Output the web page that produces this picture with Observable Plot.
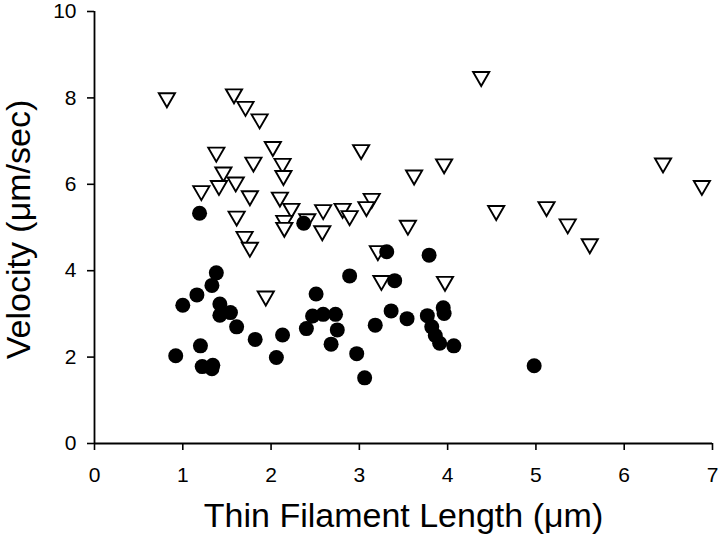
<!DOCTYPE html>
<html>
<head>
<meta charset="utf-8">
<script src="https://cdn.jsdelivr.net/npm/d3@7"></script>
<script src="https://cdn.jsdelivr.net/npm/@observablehq/plot@0.6"></script>
<style>
  html, body { margin: 0; padding: 0; background: #fff; }
  #chart { width: 720px; height: 548px; }
</style>
</head>
<body>
<div id="chart"></div>
<script>
// Open inverted triangles
const triX = [0.82, 1.58, 1.71, 1.87, 1.38, 2.02, 3.02, 1.80, 2.13, 1.46, 2.14, 1.60, 1.41, 1.21, 1.76, 2.10, 3.14, 3.08, 2.23, 2.59, 2.81, 2.89, 1.61, 2.41, 2.15, 2.15, 2.58, 1.70, 1.76, 1.94, 3.21, 3.25, 4.38, 3.96, 3.62, 6.44, 6.88, 4.55, 5.12, 5.36, 3.55, 5.61, 3.97];
const triY = [8.00, 8.09, 7.80, 7.51, 6.74, 6.87, 6.80, 6.51, 6.48, 6.28, 6.20, 6.05, 5.97, 5.85, 5.73, 5.70, 5.67, 5.48, 5.44, 5.41, 5.44, 5.27, 5.26, 5.20, 5.16, 5.00, 4.92, 4.79, 4.54, 3.41, 4.46, 3.77, 8.49, 6.47, 6.21, 6.49, 5.97, 5.39, 5.48, 5.08, 5.05, 4.62, 3.75];
// Filled circles
const dotX = [1.19, 2.37, 3.31, 3.79, 1.38, 1.33, 2.89, 3.40, 1.16, 2.51, 1.00, 1.42, 1.54, 1.42, 3.36, 2.47, 2.59, 2.73, 1.61, 2.40, 2.75, 3.18, 1.82, 2.13, 1.20, 2.68, 0.92, 2.06, 2.97, 1.22, 1.34, 1.33, 3.06, 3.54, 3.77, 3.95, 3.96, 3.82, 3.86, 3.91, 4.07, 4.98];
const dotY = [5.33, 5.10, 4.44, 4.36, 3.95, 3.66, 3.88, 3.77, 3.44, 3.46, 3.20, 3.23, 3.03, 2.97, 3.07, 2.95, 2.99, 2.99, 2.70, 2.66, 2.63, 2.74, 2.41, 2.51, 2.26, 2.30, 2.03, 1.99, 2.08, 1.78, 1.81, 1.73, 1.52, 2.89, 2.96, 3.14, 3.01, 2.70, 2.50, 2.32, 2.26, 1.80];

const xTicks = [0, 1, 2, 3, 4, 5, 6, 7];
const yTicks = [0, 2, 4, 6, 8, 10];
const xTitle = "Thin Filament Length (\u03BCm)";
const yTitle = "Velocity (\u03BCm/sec)";

const tri = triX.map((x, i) => ({x, y: triY[i]}));
const dots = dotX.map((x, i) => ({x, y: dotY[i]}));

const chart = Plot.plot({
  width: 720,
  height: 548,
  marginLeft: 94,
  marginRight: 8,
  marginTop: 11,
  marginBottom: 105,
  style: {fontFamily: "'Liberation Sans', Arial, sans-serif", fontSize: "21px", color: "#000", background: "#fff"},
  x: {domain: [0, 7]},
  y: {domain: [0, 10]},
  marks: [
    Plot.axisX({ticks: xTicks, tickSize: 7, tickPadding: 17, strokeWidth: 1.6, label: null, tickFormat: d => String(d)}),
    Plot.axisY({ticks: yTicks, tickSize: 7, tickPadding: 11, strokeWidth: 1.6, label: null, tickFormat: d => String(d)}),
    Plot.ruleX([0], {strokeWidth: 1.8}),
    Plot.ruleY([0], {strokeWidth: 1.8}),
    Plot.dot(tri, {x: "x", y: "y", symbol: "triangle", r: 6, rotate: 180, fill: "#fff", stroke: "#000", strokeWidth: 1.9}),
    Plot.dot(dots, {x: "x", y: "y", symbol: "circle", r: 7.5, fill: "#000", stroke: "none"}),
    Plot.text([xTitle], {frameAnchor: "bottom", textAnchor: "middle", dy: 83, fontSize: 34, fill: "#000", text: d => d}),
    Plot.text([yTitle], {frameAnchor: "left", textAnchor: "middle", dx: -75, dy: 2, rotate: -90, fontSize: 34, fill: "#000", text: d => d})
  ]
});
document.getElementById("chart").appendChild(chart);
</script>
</body>
</html>
